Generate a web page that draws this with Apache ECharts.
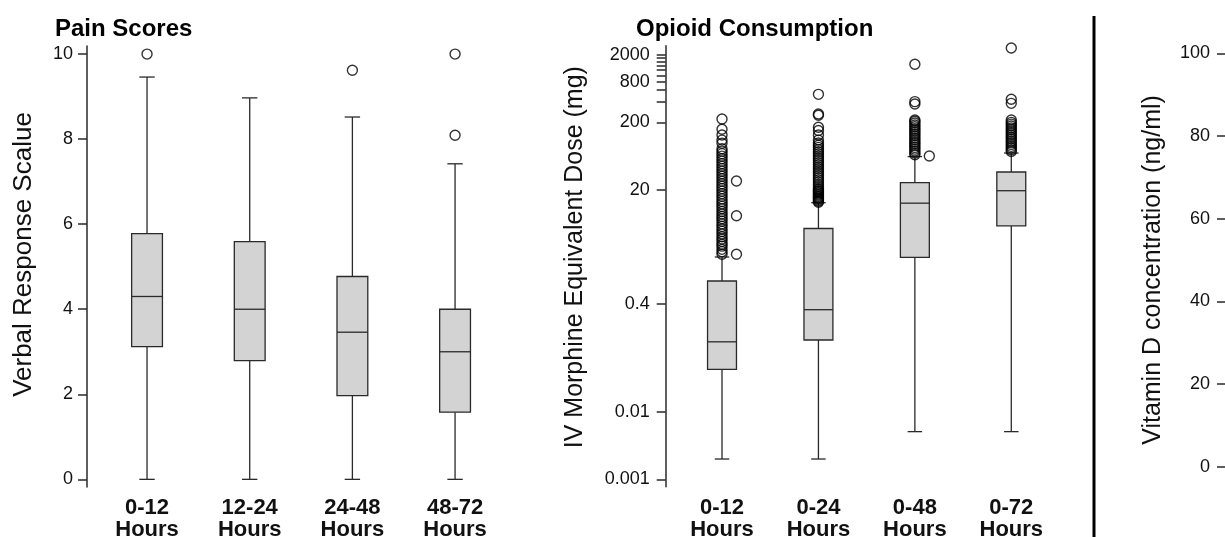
<!DOCTYPE html>
<html><head><meta charset="utf-8">
<script src="https://cdn.jsdelivr.net/npm/echarts@6/dist/echarts.min.js"></script>
<style>html,body{margin:0;padding:0;background:#fff}#c{width:1225px;height:537px}</style>
</head><body><div id="c"></div>
<script>
// ---------- Pain scores ----------
const painCategories = ['0-12\nHours', '12-24\nHours', '24-48\nHours', '48-72\nHours'];
const painMin    = [0, 0, 0, 0];
const painQ1     = [3.12, 2.79, 1.97, 1.58];
const painMedian = [4.3, 4.0, 3.46, 3.0];
const painQ3     = [5.78, 5.59, 4.77, 4.0];
const painMax    = [9.46, 8.97, 8.52, 7.42];
const painOutliers = [[0, 10], [2, 9.62], [3, 8.09], [3, 10]];
const painTicks = [0, 2, 4, 6, 8, 10];

// ---------- Opioid consumption ----------
const opioidCategories = ['0-12\nHours', '0-24\nHours', '0-48\nHours', '0-72\nHours'];
const opioidMin    = [0.002, 0.002, 0.0051, 0.0051];
const opioidQ1     = [0.043, 0.117, 1.98, 5.8];
const opioidMedian = [0.11, 0.33, 12.6, 19.3];
const opioidQ3     = [0.88, 5.3, 25.4, 36.6];
const opioidMax    = [2.0, 12.8, 62, 70];
const opioidOut012 = [2.2, 2.4, 2.6, 2.9, 3.1, 3.4, 3.7, 4.0, 4.4, 4.8, 5.2, 5.7, 6.2, 6.8, 7.4, 8.0, 8.7, 9.5,
  10.4, 11.3, 12.3, 13.4, 14.6, 16, 17.4, 19, 20.7, 22.5, 24.5, 26.7, 29, 31.7, 34.5, 37.6, 41, 44.6, 48.6,
  53, 57.7, 62.9, 68.5, 74.6, 81, 97.7, 109, 130, 158, 224];
const opioidOut024 = [13.0, 13.5, 14.0, 14.5, 15.0, 15.5, 16.0, 16.7, 17.3, 18, 18.7, 19.3, 20.0, 20.8, 22.4, 24,
  26, 28, 30, 32.5, 35, 37.6, 40.5, 43.5, 47, 50.5, 54.5, 58.6, 63, 68, 73, 79, 85, 91.5, 98.5, 109, 130, 151,
  169, 255, 266, 521];
const opioidOut048 = [66, 70, 75, 80, 85, 91, 97, 103, 110, 117, 125, 133, 142, 151, 161, 172, 183, 195, 208, 217,
  374, 406, 1455];
const opioidOut072 = [74, 78, 83, 88, 94, 100, 106, 113, 120, 128, 136, 145, 155, 165, 176, 188, 200, 217,
  383, 440, 2540];
const opioidOutSide = [[0, 2.2], [0, 8.2], [0, 26.9], [2, 63.3]]; // circles drawn beside the column
const opioidTicks = [0.001, 0.01, 0.4, 20, 200, 400, 600, 800, 1000, 1200, 1400, 1600, 1800, 2000];
const opioidTickLabels = [0.001, 0.01, 0.4, 20, 200, 800, 2000];

// ---------- Vitamin D ----------
const vitTicks = [0, 20, 40, 60, 80, 100];

const FONT = 'Liberation Sans, Arial, sans-serif';
const INK = '#2a2a2a';

function boxRows(mins, q1, med, q3, maxs) {
  return mins.map((m, i) => [i, m, q1[i], med[i], q3[i], maxs[i]]);
}
function renderBox(params, api) {
  const i = api.value(0);
  const pLo = api.coord([i, api.value(1)]);
  const pQ1 = api.coord([i, api.value(2)]);
  const pMed = api.coord([i, api.value(3)]);
  const pQ3 = api.coord([i, api.value(4)]);
  const pHi = api.coord([i, api.value(5)]);
  const band = api.coord([i + 0.5, api.value(3)])[0] - api.coord([i - 0.5, api.value(3)])[0];
  const hw = band * 0.15, cw = band * 0.075;
  const cx = pMed[0];
  const ls = { stroke: INK, lineWidth: 1.3, fill: null };
  return {
    type: 'group', children: [
      { type: 'line', shape: { x1: cx, y1: pLo[1], x2: cx, y2: pQ1[1] }, style: ls },
      { type: 'line', shape: { x1: cx, y1: pQ3[1], x2: cx, y2: pHi[1] }, style: ls },
      { type: 'line', shape: { x1: cx - cw, y1: pLo[1], x2: cx + cw, y2: pLo[1] }, style: ls },
      { type: 'line', shape: { x1: cx - cw, y1: pHi[1], x2: cx + cw, y2: pHi[1] }, style: ls },
      { type: 'rect', shape: { x: cx - hw, y: pQ3[1], width: 2 * hw, height: pQ1[1] - pQ3[1] },
        style: { fill: '#d3d3d3', stroke: INK, lineWidth: 1.3 } },
      { type: 'line', shape: { x1: cx - hw, y1: pMed[1], x2: cx + hw, y2: pMed[1] }, style: ls }
    ]
  };
}
const circleStyle = { color: 'rgba(0,0,0,0)', borderColor: '#000', borderWidth: 1.4 };
function outlierSeries(xi, yi, data) {
  return { type: 'scatter', xAxisIndex: xi, yAxisIndex: yi, data: data, symbol: 'circle', symbolSize: 10,
    itemStyle: circleStyle, clip: false, silent: true, z: 3 };
}

const opioidOutAll = [].concat(
  opioidOut012.map(v => [0, v]), opioidOut024.map(v => [1, v]),
  opioidOut048.map(v => [2, v]), opioidOut072.map(v => [3, v]));
const SIDE = 0.15;

const xLabel = { fontSize: 22, fontWeight: 'bold', color: '#111', lineHeight: 22, margin: 10, interval: 0, fontFamily: FONT };
const hiddenX = (g) => ({ gridIndex: g, type: 'value', min: -0.5, max: 3.5, show: false });

const option = {
  animation: false,
  backgroundColor: '#fff',
  textStyle: { fontFamily: FONT },
  title: [
    { text: 'Pain Scores', left: 50, top: 12, textStyle: { fontSize: 24, fontWeight: 'bold', color: '#000', fontFamily: FONT } },
    { text: 'Opioid Consumption', left: 631, top: 12, textStyle: { fontSize: 24, fontWeight: 'bold', color: '#000', fontFamily: FONT } }
  ],
  grid: [
    { left: 95.7, top: 46, width: 410.7, height: 441, outerBoundsMode: 'none', containLabel: false },
    { left: 673.8, top: 45.7, width: 385.7, height: 441, outerBoundsMode: 'none', containLabel: false },
    { left: 1226, top: 53.3, width: 100, height: 413.4, outerBoundsMode: 'none', containLabel: false }
  ],
  xAxis: [
    { gridIndex: 0, type: 'category', data: painCategories, axisLine: { show: false }, axisTick: { show: false }, axisLabel: xLabel },
    hiddenX(0),
    { gridIndex: 1, type: 'category', data: opioidCategories, axisLine: { show: false }, axisTick: { show: false }, axisLabel: xLabel },
    hiddenX(1),
    { gridIndex: 2, type: 'value', show: false }
  ],
  yAxis: [
    { gridIndex: 0, type: 'value', min: -0.18, max: 10.19, offset: 8.7,
      axisLine: { show: true, onZero: false, lineStyle: { color: INK, width: 1.5 } },
      axisTick: { show: true, length: 9, customValues: painTicks, lineStyle: { color: INK, width: 1.5 } },
      axisLabel: { customValues: painTicks, margin: 14, fontSize: 18, color: '#111', fontFamily: FONT },
      splitLine: { show: false },
      name: 'Verbal Response Scalue', nameLocation: 'middle', nameGap: 50,
      nameTextStyle: { fontSize: 26, color: '#111', fontFamily: FONT, padding: [0, 0, 0, 24] } },
    { gridIndex: 1, type: 'log', logBase: 10, min: 0.000776, max: 2748, offset: 8.1,
      axisLine: { show: true, onZero: false, lineStyle: { color: INK, width: 1.5 } },
      axisTick: { show: true, length: 9, customValues: opioidTicks, lineStyle: { color: INK, width: 1.5 } },
      axisLabel: { customValues: opioidTickLabels, margin: 16, fontSize: 18, color: '#111', fontFamily: FONT,
        formatter: v => String(+(+v).toPrecision(6)) },
      splitLine: { show: false },
      name: 'IV Morphine Equivalent Dose (mg)', nameLocation: 'middle', nameGap: 78,
      nameTextStyle: { fontSize: 25, color: '#111', fontFamily: FONT, padding: [0, 0, 0, 18] } },
    { gridIndex: 2, type: 'value', min: 0, max: 100, interval: 20,
      axisLine: { show: true, onZero: false, lineStyle: { color: INK, width: 1.5 } },
      axisTick: { show: true, length: 9, customValues: vitTicks, lineStyle: { color: INK, width: 1.5 } },
      axisLabel: { customValues: vitTicks, margin: 16, fontSize: 18, color: '#111', fontFamily: FONT },
      splitLine: { show: false },
      name: 'Vitamin D concentration (ng/ml)', nameLocation: 'middle', nameGap: 60,
      nameTextStyle: { fontSize: 25, color: '#111', fontFamily: FONT, padding: [0, 20, 0, 0] } }
  ],
  series: [
    { type: 'custom', xAxisIndex: 1, yAxisIndex: 0, renderItem: renderBox, silent: true,
      encode: { x: 0, y: [1, 2, 3, 4, 5] },
      data: boxRows(painMin, painQ1, painMedian, painQ3, painMax) },
    outlierSeries(1, 0, painOutliers),
    { type: 'custom', xAxisIndex: 3, yAxisIndex: 1, renderItem: renderBox, silent: true,
      encode: { x: 0, y: [1, 2, 3, 4, 5] },
      data: boxRows(opioidMin, opioidQ1, opioidMedian, opioidQ3, opioidMax) },
    outlierSeries(3, 1, opioidOutAll),
    outlierSeries(3, 1, opioidOutSide.map(d => [d[0] + SIDE, d[1]])),
    { type: 'scatter', xAxisIndex: 4, yAxisIndex: 2, data: [] }
  ],
  graphic: [
    { type: 'line', shape: { x1: 1094, y1: 16, x2: 1094, y2: 537 }, style: { stroke: '#000', lineWidth: 3 } }
  ]
};
const chart = echarts.init(document.getElementById('c'), null, { renderer: 'canvas' });
chart.setOption(option);
</script>
</body></html>
